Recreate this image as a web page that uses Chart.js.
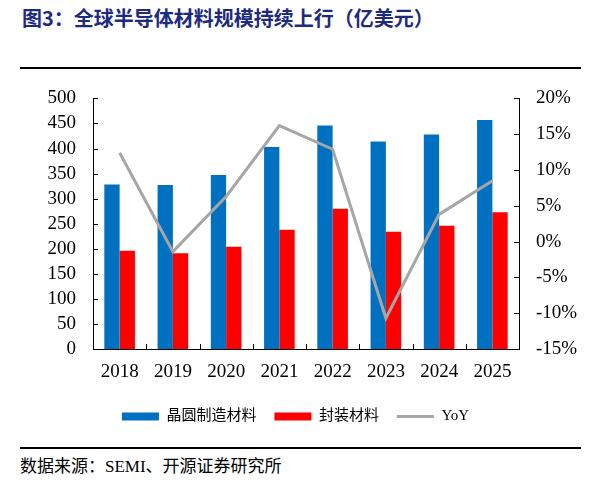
<!DOCTYPE html>
<html>
<head>
<meta charset="utf-8">
<script src="https://cdn.jsdelivr.net/npm/chart.js@4/dist/chart.umd.min.js"></script>
<style>
  body { margin: 0; background: #fff; width: 591px; height: 480px; position: relative; overflow: hidden; }
  #title { position: absolute; left: 22px; top: 3px; font: bold 20px "Noto Sans CJK SC", sans-serif; color: #1c2a80; }
  .rule { position: absolute; left: 20px; width: 561px; height: 2px; background: #000; }
  #source { position: absolute; left: 20px; top: 452px; font: 17px "Liberation Serif", "Noto Sans CJK SC", serif; color: #000; }
  #box { position: absolute; left: 0; top: 70px; width: 591px; height: 364px; }
</style>
</head>
<body>
<div id="title">图3：全球半导体材料规模持续上行（亿美元）</div>
<div class="rule" style="top:67px"></div>
<div id="box"><canvas id="chart"></canvas></div>
<div class="rule" style="top:447px"></div>
<div id="source">数据来源：SEMI、开源证券研究所</div>
<script>
// data
const years = ['2018', '2019', '2020', '2021', '2022', '2023', '2024', '2025'];
const waferMaterials = [328, 327, 347, 403, 446, 414, 428, 457];
const packagingMaterials = [196, 191, 204, 238, 280, 234, 246, 273];
const yoy = [12.4, -1.4, 6.3, 16.2, 12.9, -10.7, 3.8, 8.5];

const serif = '"Liberation Serif", "Noto Sans CJK SC", serif';

// short tick marks drawn inward from each axis line
const innerTicks = {
    id: 'innerTicks',
    afterDraw(chart) {
        const c = chart.ctx, a = chart.chartArea;
        const x = chart.scales.x, yl = chart.scales.y, yr = chart.scales.y1;
        c.save();
        c.strokeStyle = '#000';
        c.lineWidth = 1;
        c.beginPath();
        for (let t of yl.ticks) {
            const p = Math.round(yl.getPixelForValue(t.value)) + 0.5;
            c.moveTo(a.left, p); c.lineTo(a.left + 5, p);
        }
        for (let t of yr.ticks) {
            const p = Math.round(yr.getPixelForValue(t.value)) + 0.5;
            c.moveTo(a.right, p); c.lineTo(a.right - 5, p);
        }
        for (let i = 1; i < years.length; i++) {
            const p = Math.round(x.getPixelForValue(i - 0.5)) + 0.5;
            c.moveTo(p, a.bottom); c.lineTo(p, a.bottom - 5);
        }
        c.stroke();
        c.restore();
    }
};

new Chart(document.getElementById('chart'), {
    data: {
        labels: years,
        datasets: [
            {
                type: 'line',
                label: 'YoY',
                data: yoy,
                yAxisID: 'y1',
                borderColor: '#a6a6a6',
                backgroundColor: '#a6a6a6',
                borderWidth: 3,
                pointRadius: 0,
                pointStyle: 'line',
                tension: 0,
                order: 0
            },
            {
                type: 'bar',
                label: '晶圆制造材料',
                data: waferMaterials,
                yAxisID: 'y',
                backgroundColor: '#0070c0',
                pointStyle: 'rect',
                categoryPercentage: 0.575,
                barPercentage: 1,
                order: 1
            },
            {
                type: 'bar',
                label: '封装材料',
                data: packagingMaterials,
                yAxisID: 'y',
                backgroundColor: '#ff0000',
                pointStyle: 'rect',
                categoryPercentage: 0.575,
                barPercentage: 1,
                order: 2
            }
        ]
    },
    options: {
        responsive: true,
        maintainAspectRatio: false,
        animation: false,
        layout: { padding: { top: 17, left: 0, right: 0, bottom: 0 } },
        scales: {
            x: {
                grid: { display: false, drawTicks: false },
                border: { color: '#000', width: 1 },
                ticks: { color: '#000', font: { family: serif, size: 19 }, padding: 12 },
                afterFit(s) { s.height = 42; }
            },
            y: {
                position: 'left',
                min: 0, max: 500,
                grid: { display: false, drawTicks: false },
                border: { color: '#000', width: 1 },
                ticks: { stepSize: 50, autoSkip: false, color: '#000', font: { family: serif, size: 19 }, padding: 17 },
                afterFit(s) { s.width = 93; }
            },
            y1: {
                position: 'right',
                min: -15, max: 20,
                grid: { display: false, drawTicks: false },
                border: { color: '#000', width: 1 },
                ticks: { stepSize: 5, autoSkip: false, color: '#000', font: { family: serif, size: 19 }, padding: 17,
                    callback: v => v + '%' },
                afterFit(s) { s.width = 72; }
            }
        },
        plugins: {
            tooltip: { enabled: false },
            legend: {
                position: 'bottom',
                labels: {
                    usePointStyle: true,
                    pointStyleWidth: 37,
                    boxHeight: 8,
                    padding: 18,
                    color: '#000',
                    font: { family: serif, size: 15 },
                    sort: (a, b) => [1, 2, 0].indexOf(a.datasetIndex) - [1, 2, 0].indexOf(b.datasetIndex)
                }
            }
        }
    },
    plugins: [innerTicks]
});
</script>
</body>
</html>
